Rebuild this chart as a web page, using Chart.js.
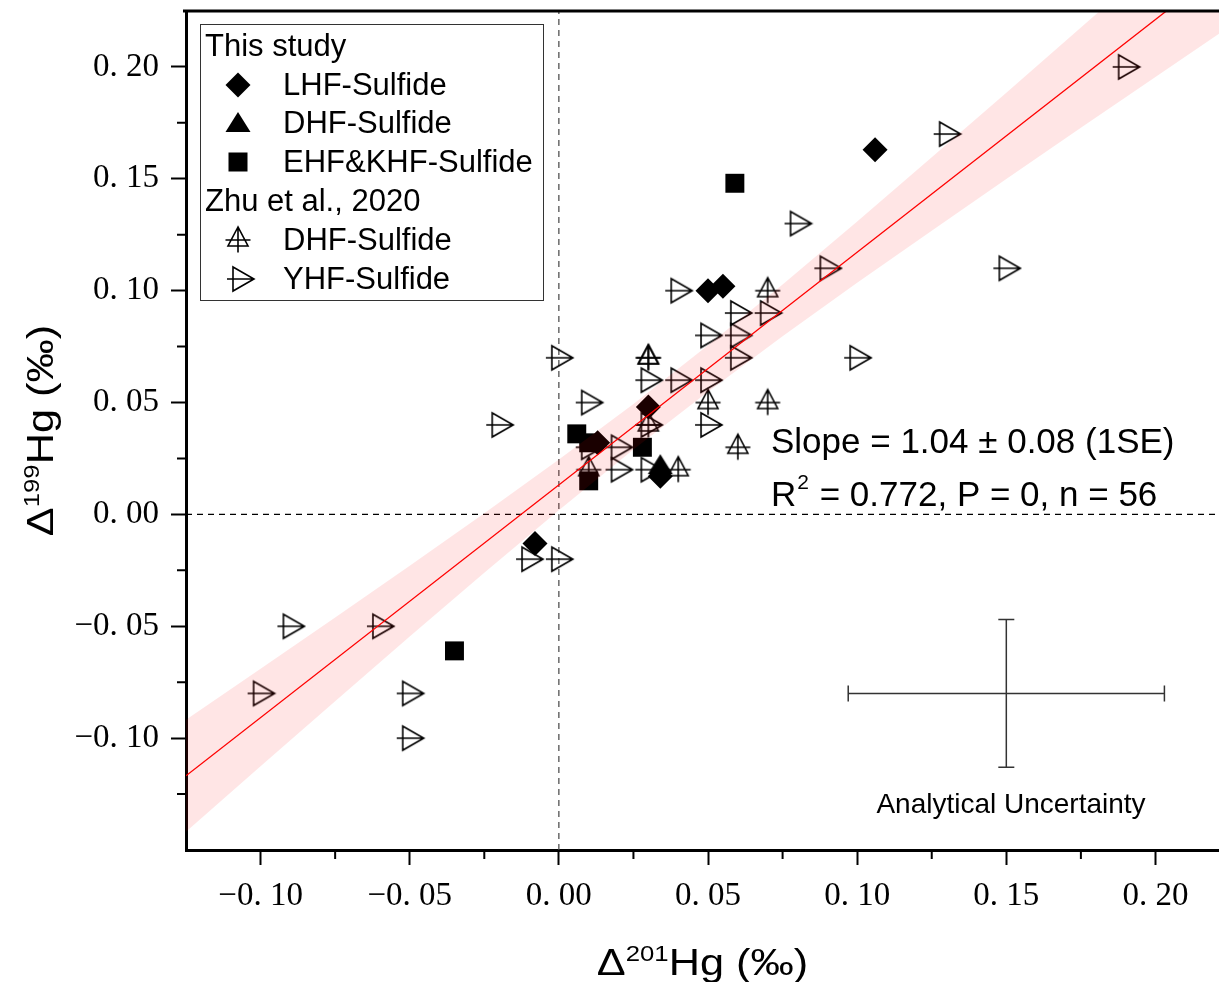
<!DOCTYPE html>
<html>
<head>
<meta charset="utf-8">
<script src="https://cdn.jsdelivr.net/npm/chart.js@4.4.0/dist/chart.umd.min.js"></script>
<style>
  html, body { margin: 0; padding: 0; background: #fff; overflow: hidden; }
  canvas { display: block; }
</style>
</head>
<body>
<canvas id="mychart" width="1219" height="982"></canvas>
<script>
// ---- data ----
const lhfX = [-0.008, 0.013, 0.030, 0.034, 0.050, 0.055, 0.106];
const lhfY = [-0.013, 0.032, 0.048, 0.017, 0.100, 0.102, 0.163];

const dhfX = [0.034];
const dhfY = [0.022];

const ehfX = [-0.035, 0.006, 0.010, 0.010, 0.028, 0.059];
const ehfY = [-0.061, 0.036, 0.032, 0.015, 0.030, 0.148];

const zhuDhfX = [0.03, 0.03, 0.07, 0.03, 0.05, 0.07, 0.06, 0.04, 0.01];
const zhuDhfY = [0.07, 0.07, 0.10, 0.04, 0.05, 0.05, 0.03, 0.02, 0.02];

const zhuYhfX = [-0.10, -0.09, -0.06, -0.05, -0.05, -0.01, 0.00, -0.02, 0.00, 0.01, 0.01,
                 0.02, 0.02, 0.03, 0.03, 0.03, 0.04, 0.04, 0.05, 0.05, 0.05, 0.06, 0.06,
                 0.06, 0.07, 0.08, 0.09, 0.10, 0.13, 0.15, 0.19];
const zhuYhfY = [-0.08, -0.05, -0.05, -0.08, -0.10, -0.02, -0.02, 0.04, 0.07, 0.05, 0.03,
                 0.03, 0.02, 0.06, 0.04, 0.02, 0.06, 0.10, 0.08, 0.06, 0.04, 0.09, 0.08,
                 0.07, 0.09, 0.13, 0.11, 0.07, 0.17, 0.11, 0.20];

// regression line and its confidence band
const fitX = [-0.125, 0.225];
const fitY = [-0.1168, 0.2472];
const bandX = [-0.125, -0.10, -0.075, -0.05, -0.025, 0, 0.025, 0.05, 0.075, 0.10, 0.125, 0.15, 0.175, 0.20, 0.225];
const bandUpper = [-0.0918, -0.0690, -0.0461, -0.0230, 0.0005, 0.0245, 0.0494, 0.0756, 0.1028, 0.1309, 0.1596, 0.1885, 0.2176, 0.2469, 0.2762];
const bandLower = [-0.1418, -0.1126, -0.0835, -0.0546, -0.0261, 0.0019, 0.0290, 0.0548, 0.0796, 0.1035, 0.1268, 0.1499, 0.1728, 0.1955, 0.2182];

// analytical uncertainty cross
const errX = 0.15, errY = -0.08, errDx = 0.053, errDy = 0.033;

// axes
const xMin = -0.125, xMax = 0.2213, yMin = -0.15, yMax = 0.225;
const xMinor = [-0.075, -0.025, 0.025, 0.075, 0.125, 0.175];
const yMinor = [-0.125, -0.075, -0.025, 0.025, 0.075, 0.125, 0.175];

const SANS = '"Liberation Sans", Arial, sans-serif';

function pts(xs, ys) { return xs.map((x, i) => ({ x: x, y: ys[i] })); }

function fmt(v) {
  let s = Math.abs(v).toFixed(2).replace('.', '. ');
  return (v < -1e-9 ? '\u2212' : '') + s;
}

// open markers with crosses
function makeUpTri() {
  const c = document.createElement('canvas'); c.width = 32; c.height = 32;
  const g = c.getContext('2d');
  g.strokeStyle = '#000'; g.lineWidth = 1.6;
  g.beginPath();
  g.moveTo(16, 3); g.lineTo(6, 22); g.lineTo(26, 22); g.closePath();
  g.moveTo(3.5, 16); g.lineTo(28.5, 16);
  g.moveTo(16, 3); g.lineTo(16, 28.5);
  g.stroke();
  return c;
}
function makeRightTri() {
  const c = document.createElement('canvas'); c.width = 32; c.height = 32;
  const g = c.getContext('2d');
  g.strokeStyle = '#000'; g.lineWidth = 1.6;
  g.beginPath();
  g.moveTo(9, 4); g.lineTo(30, 16); g.lineTo(9, 28); g.closePath();
  g.moveTo(3, 16); g.lineTo(30, 16);
  g.stroke();
  return c;
}
function makeFillTri() {
  const c = document.createElement('canvas'); c.width = 32; c.height = 32;
  const g = c.getContext('2d');
  g.fillStyle = '#000';
  g.beginPath();
  g.moveTo(16, 5); g.lineTo(3.5, 25); g.lineTo(28.5, 25); g.closePath();
  g.fill();
  return c;
}
const upTri = makeUpTri(), rightTri = makeRightTri(), fillTri = makeFillTri();

function supText(ctx, cx, cy, pre, sup, post, size, stretch) {
  const big = size + 'px ' + SANS, small = Math.round(size * 0.6) + 'px ' + SANS;
  ctx.font = big;
  const w1 = ctx.measureText(pre).width, w3 = ctx.measureText(post).width;
  ctx.font = small;
  const w2 = ctx.measureText(sup).width;
  ctx.save();
  ctx.translate(cx, cy);
  ctx.scale(stretch, 1);
  let x = -(w1 + w2 + w3) / 2;
  const base = size * 0.36;
  ctx.textAlign = 'left'; ctx.textBaseline = 'alphabetic';
  ctx.font = big; ctx.fillText(pre, x, base); x += w1;
  ctx.font = small; ctx.fillText(sup, x, base - size * 0.4); x += w2;
  ctx.font = big; ctx.fillText(post, x, base);
  ctx.restore();
}

const decor = {
  id: 'decor',
  afterDraw(chart) {
    const ctx = chart.ctx, a = chart.chartArea;
    const sx = chart.scales.x, sy = chart.scales.y;
    ctx.save();
    ctx.fillStyle = '#000';
    ctx.strokeStyle = '#000';

    // top frame line
    ctx.lineWidth = 3;
    ctx.beginPath(); ctx.moveTo(a.left - 3, a.top); ctx.lineTo(a.right, a.top); ctx.stroke();

    // minor ticks
    ctx.lineWidth = 2;
    ctx.beginPath();
    yMinor.forEach(v => { const p = sy.getPixelForValue(v); ctx.moveTo(a.left - 1, p); ctx.lineTo(a.left - 9, p); });
    xMinor.forEach(v => { const p = sx.getPixelForValue(v); ctx.moveTo(p, a.bottom + 1); ctx.lineTo(p, a.bottom + 9); });
    ctx.stroke();

    // axis titles
    supText(ctx, (a.left + a.right) / 2, 962, '\u0394', '201', 'Hg (\u2030)', 37, 1.17);
    ctx.save();
    ctx.translate(40, (a.top + a.bottom) / 2);
    ctx.rotate(-Math.PI / 2);
    supText(ctx, 0, 0, '\u0394', '199', 'Hg (\u2030)', 37, 1.17);
    ctx.restore();

    // legend box
    ctx.lineWidth = 1;
    ctx.strokeStyle = '#333';
    ctx.strokeRect(200.5, 24.5, 343, 276);
    ctx.font = '31px ' + SANS;
    ctx.textAlign = 'left'; ctx.textBaseline = 'middle';
    const rows = [
      ['This study', null, 46],
      ['LHF-Sulfide', 'diamond', 85],
      ['DHF-Sulfide', 'ftri', 123],
      ['EHF&KHF-Sulfide', 'square', 162],
      ['Zhu et al., 2020', null, 201],
      ['DHF-Sulfide', 'utri', 240],
      ['YHF-Sulfide', 'rtri', 279]
    ];
    rows.forEach(r => {
      const y = r[2];
      if (!r[1]) { ctx.fillText(r[0], 205, y + 1); return; }
      ctx.fillText(r[0], 283, y + 1);
      const cx = 238;
      if (r[1] === 'diamond') {
        ctx.beginPath();
        ctx.moveTo(cx, y - 12.5); ctx.lineTo(cx + 12.5, y); ctx.lineTo(cx, y + 12.5); ctx.lineTo(cx - 12.5, y);
        ctx.closePath(); ctx.fill();
      } else if (r[1] === 'square') {
        ctx.fillRect(cx - 9.5, y - 9.5, 19, 19);
      } else if (r[1] === 'ftri') {
        ctx.drawImage(fillTri, cx - 16, y - 16);
      } else if (r[1] === 'utri') {
        ctx.drawImage(upTri, cx - 16, y - 16);
      } else {
        ctx.drawImage(rightTri, cx - 14, y - 16);
      }
    });

    // regression statistics
    ctx.font = '35px ' + SANS;
    ctx.textBaseline = 'alphabetic';
    ctx.fillText('Slope = 1.04 \u00b1 0.08 (1SE)', 771, 453);
    ctx.fillText('R', 771, 506);
    let rx = 771 + ctx.measureText('R').width + 1;
    ctx.font = '21px ' + SANS;
    ctx.fillText('2', rx, 489);
    rx += ctx.measureText('2').width + 1;
    ctx.font = '35px ' + SANS;
    ctx.fillText(' = 0.772, P = 0, n = 56', rx, 506);

    // analytical uncertainty cross
    const cxp = sx.getPixelForValue(errX), cyp = sy.getPixelForValue(errY);
    const x1 = sx.getPixelForValue(errX - errDx), x2 = sx.getPixelForValue(errX + errDx);
    const y1 = sy.getPixelForValue(errY + errDy), y2 = sy.getPixelForValue(errY - errDy);
    ctx.strokeStyle = '#333'; ctx.lineWidth = 1.5;
    ctx.beginPath();
    ctx.moveTo(x1, cyp); ctx.lineTo(x2, cyp);
    ctx.moveTo(x1, cyp - 8); ctx.lineTo(x1, cyp + 8);
    ctx.moveTo(x2, cyp - 8); ctx.lineTo(x2, cyp + 8);
    ctx.moveTo(cxp, y1); ctx.lineTo(cxp, y2);
    ctx.moveTo(cxp - 8, y1); ctx.lineTo(cxp + 8, y1);
    ctx.moveTo(cxp - 8, y2); ctx.lineTo(cxp + 8, y2);
    ctx.stroke();
    ctx.font = '28px ' + SANS;
    ctx.textAlign = 'center';
    ctx.fillStyle = '#000';
    ctx.fillText('Analytical Uncertainty', 1011, 813);

    ctx.restore();
  }
};

Chart.defaults.font.family = SANS;
Chart.defaults.color = '#000';

const chart = new Chart(document.getElementById('mychart'), {
  type: 'scatter',
  data: {
    datasets: [
      { type: 'line', label: 'bandUpper', data: pts(bandX, bandUpper), borderWidth: 0, pointRadius: 0,
        fill: 1, backgroundColor: 'rgba(255,0,0,0.1)' },
      { type: 'line', label: 'bandLower', data: pts(bandX, bandLower), borderWidth: 0, pointRadius: 0, fill: false },
      { type: 'line', label: 'fit', data: pts(fitX, fitY), borderColor: '#ff0000', borderWidth: 1.3,
        pointRadius: 0, fill: false },
      { label: 'LHF-Sulfide', data: pts(lhfX, lhfY), pointStyle: 'rectRot', pointRadius: 12.5,
        backgroundColor: '#000', borderColor: '#000', borderWidth: 0 },
      { label: 'DHF-Sulfide', data: pts(dhfX, dhfY), pointStyle: fillTri, pointRadius: 12 },
      { label: 'EHF&KHF-Sulfide', data: pts(ehfX, ehfY), pointStyle: 'rect', pointRadius: 13.4,
        backgroundColor: '#000', borderColor: '#000', borderWidth: 0 },
      { label: 'Zhu DHF-Sulfide', data: pts(zhuDhfX, zhuDhfY), pointStyle: upTri, pointRadius: 12 },
      { label: 'Zhu YHF-Sulfide', data: pts(zhuYhfX, zhuYhfY), pointStyle: rightTri, pointRadius: 12 },
      { type: 'line', label: 'x0', data: pts([0, 0], [yMin, yMax]), borderColor: '#444', borderWidth: 1.2,
        borderDash: [6, 5], pointRadius: 0, fill: false },
      { type: 'line', label: 'y0', data: pts([xMin, xMax], [0, 0]), borderColor: '#000', borderWidth: 1.2,
        borderDash: [6, 5], pointRadius: 0, fill: false }
    ]
  },
  options: {
    responsive: false,
    animation: false,
    devicePixelRatio: 1,
    layout: { autoPadding: false, padding: { top: 11, left: 0, right: 0, bottom: 0 } },
    plugins: { legend: { display: false }, tooltip: { enabled: false } },
    scales: {
      x: {
        type: 'linear', min: xMin, max: xMax,
        ticks: { stepSize: 0.05, includeBounds: false, autoSkip: false, maxRotation: 0,
                 font: { family: '"Liberation Serif", serif', size: 33 }, color: '#000', padding: 12,
                 callback: v => fmt(v) },
        grid: { drawOnChartArea: false, drawTicks: true, tickLength: 15, tickWidth: 2, tickColor: '#000' },
        border: { display: true, width: 3, color: '#000' },
        afterFit: s => { s.height = 132; s.paddingLeft = 0; s.paddingRight = 0; }
      },
      y: {
        type: 'linear', min: yMin, max: yMax,
        ticks: { stepSize: 0.05, includeBounds: false, autoSkip: false,
                 font: { family: '"Liberation Serif", serif', size: 33 }, color: '#000', padding: 12,
                 callback: v => fmt(v) },
        grid: { drawOnChartArea: false, drawTicks: true, tickLength: 15, tickWidth: 2, tickColor: '#000' },
        border: { display: true, width: 3, color: '#000' },
        afterFit: s => { s.width = 186; s.paddingTop = 0; s.paddingBottom = 0; }
      }
    }
  },
  plugins: [decor]
});
</script>
</body>
</html>
